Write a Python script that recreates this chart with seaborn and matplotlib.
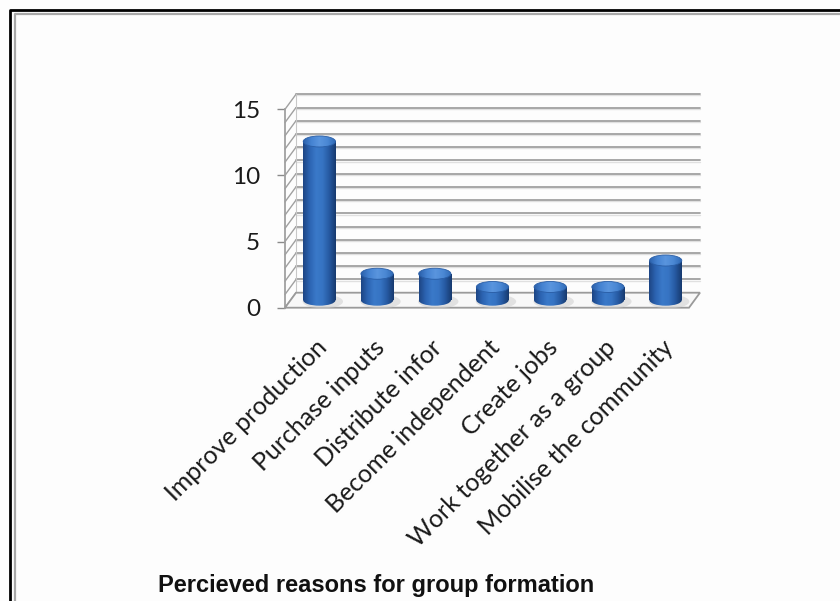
import numpy as np
import pandas as pd
import matplotlib
matplotlib.use("Agg")
import matplotlib.pyplot as plt
import seaborn as sns
from matplotlib.colors import LinearSegmentedColormap
from matplotlib.patches import Ellipse, Polygon
from matplotlib.lines import Line2D
from matplotlib.transforms import ScaledTranslation
from matplotlib import font_manager

# ---- data ----
reasons = [
    "Improve production",
    "Purchase inputs",
    "Distribute infor",
    "Become independent",
    "Create jobs",
    "Work together as a group",
    "Mobilise the community",
]
counts = [12, 2, 2, 1, 1, 1, 3]
y_ticks = [0, 5, 10, 15]
y_max = 15
title_text = "Percieved reasons for group formation"

sns.set_theme(style="white")
plt.rcParams["font.family"] = ["Lato", "DejaVu Sans"]

names = {f.name for f in font_manager.fontManager.ttflist}
title_family = "Liberation Sans Narrow" if "Liberation Sans Narrow" in names else "Liberation Sans"

W, H = 840, 601
fig = plt.figure(figsize=(W / 100, H / 100), dpi=100)
fig.patch.set_facecolor("#fdfdfd")


def fbox(left, top, right, bottom):
    return [left / W, 1 - bottom / H, (right - left) / W, (bottom - top) / H]


# depth offsets of the 3-D box (pixels) between the bar plane and front/back planes
DX, DY = 5.5, 7.5
mid = dict(left=290.5, right=694.5, top=101.8, bottom=300.2)

ax = fig.add_axes(fbox(mid["left"], mid["top"], mid["right"], mid["bottom"]))
axf = fig.add_axes(fbox(mid["left"] - DX, mid["top"] + DY,
                        mid["right"] - DX, mid["bottom"] + DY))
ax.set_zorder(2)
axf.set_zorder(1)

n = len(reasons)
xlim = (-0.5, n - 0.5)
for a in (ax, axf):
    a.set_xlim(*xlim)
    a.set_ylim(0, y_max)
    a.patch.set_alpha(0)

# data units per pixel on the bar plane
ux = (xlim[1] - xlim[0]) / (mid["right"] - mid["left"])
uy = y_max / (mid["bottom"] - mid["top"])
dxu, dyu = DX * ux, DY * uy

grid_c = "#a0a0a0"
x0, x1 = xlim

# bars on the middle plane
df = pd.DataFrame({"reason": reasons, "count": counts})
bar_w = 0.56
sns.barplot(data=df, x="reason", y="count", ax=ax, color="#2f6bbd",
            width=bar_w, saturation=1, zorder=2)
bars = list(ax.containers[0])
ax.set_xlim(*xlim)
ax.set_ylim(0, y_max)

# back wall gridlines and slanted side wall lines
for v in range(0, y_max + 1):
    yb = v + dyu
    if v > 0:
        ax.add_line(Line2D([x0 + dxu, x1 + dxu], [yb - 0.09, yb - 0.09], color="#e0e0e0",
                           lw=1.0, clip_on=False, zorder=0))
        ax.add_line(Line2D([x0 + dxu, x1 + dxu], [yb, yb], color=grid_c,
                           lw=1.3, clip_on=False, zorder=0))
    ax.add_line(Line2D([x0 - dxu, x0 + dxu], [v - dyu, yb], color=grid_c,
                       lw=1.0, clip_on=False, zorder=0))
# back-left corner of the walls
ax.add_line(Line2D([x0 + dxu, x0 + dxu], [dyu, y_max + dyu], color="#c8c8c8",
                   lw=0.8, clip_on=False, zorder=0))

# floor
floor = Polygon([(x0 - dxu, -dyu), (x1 - dxu, -dyu), (x1 + dxu, dyu), (x0 + dxu, dyu)],
                closed=True, facecolor="#f8f8f8", edgecolor="#9a9a9a", lw=1.3,
                clip_on=False, zorder=0.5)
ax.add_patch(floor)

body_cmap = LinearSegmentedColormap.from_list(
    "body", ["#1d4584", "#2c64b2", "#3a79c9", "#3674c3", "#2659a1", "#173a6e"])
top_cmap = LinearSegmentedColormap.from_list(
    "top", ["#2b60aa", "#4583d2", "#5a95de", "#4a88d4", "#2f68b4"])
grad = np.linspace(0, 1, 128).reshape(1, -1)

e_h = 11 * uy  # ellipse height of cylinder caps in data units

for bar in bars:
    bx, bw, bh = bar.get_x(), bar.get_width(), bar.get_height()
    cx = bx + bw / 2
    # soft shadow on the floor
    sh = Ellipse((cx + 0.06, -0.1), bw * 1.25, e_h * 1.25, facecolor="#cfcfcf",
                 edgecolor="none", alpha=0.55, zorder=1, clip_on=False)
    ax.add_patch(sh)
    # rounded bottom of the cylinder
    bot = Ellipse((cx, 0), bw, e_h, facecolor="none", edgecolor="none", zorder=2)
    ax.add_patch(bot)
    im = ax.imshow(grad, cmap=body_cmap, extent=(bx, bx + bw, -e_h / 2, e_h / 2),
                   aspect="auto", zorder=2.1, interpolation="bilinear")
    im.set_clip_path(bot)
    im.set_clip_box(fig.bbox)
    # cylinder body
    im2 = ax.imshow(grad, cmap=body_cmap, extent=(bx, bx + bw, 0, bh),
                    aspect="auto", zorder=2.2, interpolation="bilinear")
    im2.set_clip_path(bar)
    # cylinder top
    top = Ellipse((cx, bh), bw, e_h, facecolor="none", edgecolor="#2a5ea6",
                  lw=0.6, zorder=2.4)
    ax.add_patch(top)
    im3 = ax.imshow(grad, cmap=top_cmap, extent=(bx, bx + bw, bh - e_h / 2, bh + e_h / 2),
                    aspect="auto", zorder=2.3, interpolation="bilinear")
    im3.set_clip_path(top)
    im3.set_clip_box(fig.bbox)
    bar.set_edgecolor("none")

ax.set_xlim(*xlim)
ax.set_ylim(0, y_max)
ax.axis("off")

# front plane: value axis and category labels
for s in ("top", "right", "bottom"):
    axf.spines[s].set_visible(False)
axf.spines["left"].set_color(grid_c)
axf.spines["left"].set_linewidth(1.3)
axf.set_yticks(y_ticks)
axf.set_yticklabels([str(t) for t in y_ticks])
axf.tick_params(axis="y", which="both", left=True, length=5.8, width=1.0,
                color="#8a8a8a", pad=12, labelsize=17.5, labelcolor="#1a1a1a")
axf.set_xticks(range(n))
axf.set_xticklabels(reasons, rotation=45, ha="right", va="top",
                    rotation_mode="anchor", fontsize=18, color="#1a1a1a")
axf.tick_params(axis="x", bottom=False, pad=14)
shift = ScaledTranslation(0.01, 0, fig.dpi_scale_trans)
for lab in axf.get_xticklabels():
    lab.set_transform(lab.get_transform() + shift)
axf.set_xlabel("")
axf.set_ylabel("")
axf.grid(False)

# title below the chart
fig.text(158 / W, 1 - 592 / H, title_text, ha="left", va="baseline",
         fontsize=17, fontweight="bold", family=title_family, color="#111111")

# frame around the chart area
fig.add_artist(Line2D([10 / W, 10 / W, 1.01], [-0.01, 1 - 10 / H, 1 - 10 / H],
                      transform=fig.transFigure, color="black", lw=2.0))
fig.add_artist(Line2D([14.5 / W, 14.5 / W, 1.01], [-0.01, 1 - 14 / H, 1 - 14 / H],
                      transform=fig.transFigure, color="#a8a8a8", lw=1.6))

fig.savefig("out.png", dpi=100, facecolor=fig.get_facecolor())
